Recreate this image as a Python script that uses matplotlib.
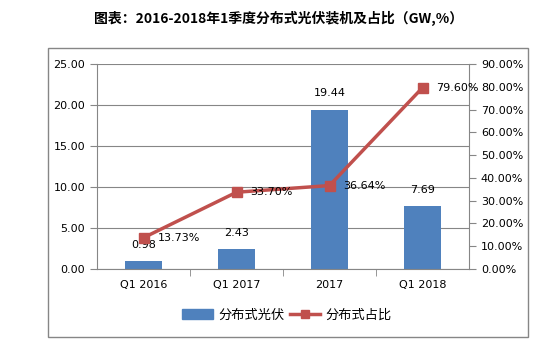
import matplotlib.pyplot as plt
import matplotlib.patches as patches
from matplotlib.lines import Line2D
from matplotlib.ticker import FuncFormatter
import numpy as np

plt.rcParams['font.family'] = ['DejaVu Sans', 'Noto Sans CJK SC']

categories = ['Q1 2016', 'Q1 2017', '2017', 'Q1 2018']
capacity = [0.98, 2.43, 19.44, 7.69]          # GW
share = [13.73, 33.70, 36.64, 79.60]          # %

bar_color = '#4F81BD'
line_color = '#C0504D'
grid_color = '#868686'

fig = plt.figure(figsize=(5.57, 3.52), dpi=100)

# outer chart border
fig.patches.append(patches.Rectangle((48 / 557, 1 - 337 / 352), 480 / 557, 289 / 352,
                                     transform=fig.transFigure, fill=False,
                                     edgecolor=grid_color, linewidth=1))

fig.text(0.5, 1 - 18 / 352, '图表：2016-2018年1季度分布式光伏装机及占比（GW,%）',
         ha='center', va='center', fontsize=10, fontweight='bold',
         family=['Noto Sans CJK SC', 'DejaVu Sans'])

ax = fig.add_axes([97 / 557, 1 - 269 / 352, 372 / 557, 205 / 352])
x = np.arange(len(categories))
bars = ax.bar(x, capacity, width=0.4, color=bar_color, zorder=2)
ax.set_xlim(-0.5, 3.5)
ax.set_ylim(0, 25)
ax.set_yticks(np.arange(0, 26, 5))
ax.yaxis.set_major_formatter(FuncFormatter(lambda v, p: f'{v:.2f}'))
ax.grid(axis='y', color=grid_color, linewidth=0.8, zorder=0)
ax.set_xticks(x)
ax.set_xticklabels(categories)
ax.set_xticks([0.5, 1.5, 2.5], minor=True)
ax.tick_params(axis='x', which='major', length=0, pad=8, labelsize=8)
ax.tick_params(axis='x', which='minor', length=5, color=grid_color)
ax.tick_params(axis='y', length=5, color=grid_color, labelsize=8)
for s in ['top', 'right']:
    ax.spines[s].set_visible(False)
for s in ['left', 'bottom']:
    ax.spines[s].set_color(grid_color)

for xi, v in zip(x, capacity):
    ax.annotate(f'{v:.2f}', (xi, v), xytext=(0, 8), textcoords='offset points',
                ha='center', va='bottom', fontsize=8)

ax2 = ax.twinx()
ax2.plot(x, share, color=line_color, linewidth=2.5, marker='s', markersize=7, zorder=3)
ax2.set_ylim(0, 90)
ax2.set_yticks(np.arange(0, 91, 10))
ax2.yaxis.set_major_formatter(FuncFormatter(lambda v, p: f'{v:.2f}%'))
ax2.tick_params(axis='y', length=5, color=grid_color, labelsize=8)
for s in ['top', 'left', 'bottom']:
    ax2.spines[s].set_visible(False)
ax2.spines['right'].set_color(grid_color)

for xi, v in zip(x, share):
    ax2.annotate(f'{v:.2f}%', (xi, v), xytext=(10, 0), textcoords='offset points',
                 ha='left', va='center', fontsize=8)

handles = [patches.Patch(color=bar_color),
           Line2D([], [], color=line_color, linewidth=2.5, marker='s', markersize=6)]
fig.legend(handles, ['分布式光伏', '分布式占比'], loc='center',
           bbox_to_anchor=(287 / 557, 1 - 315 / 352), ncol=2, frameon=False,
           prop={'family': ['Noto Sans CJK SC', 'DejaVu Sans'], 'size': 9.5},
           handlelength=2.3, columnspacing=0.4, handletextpad=0.4)

fig.savefig('out.png', dpi=100)
